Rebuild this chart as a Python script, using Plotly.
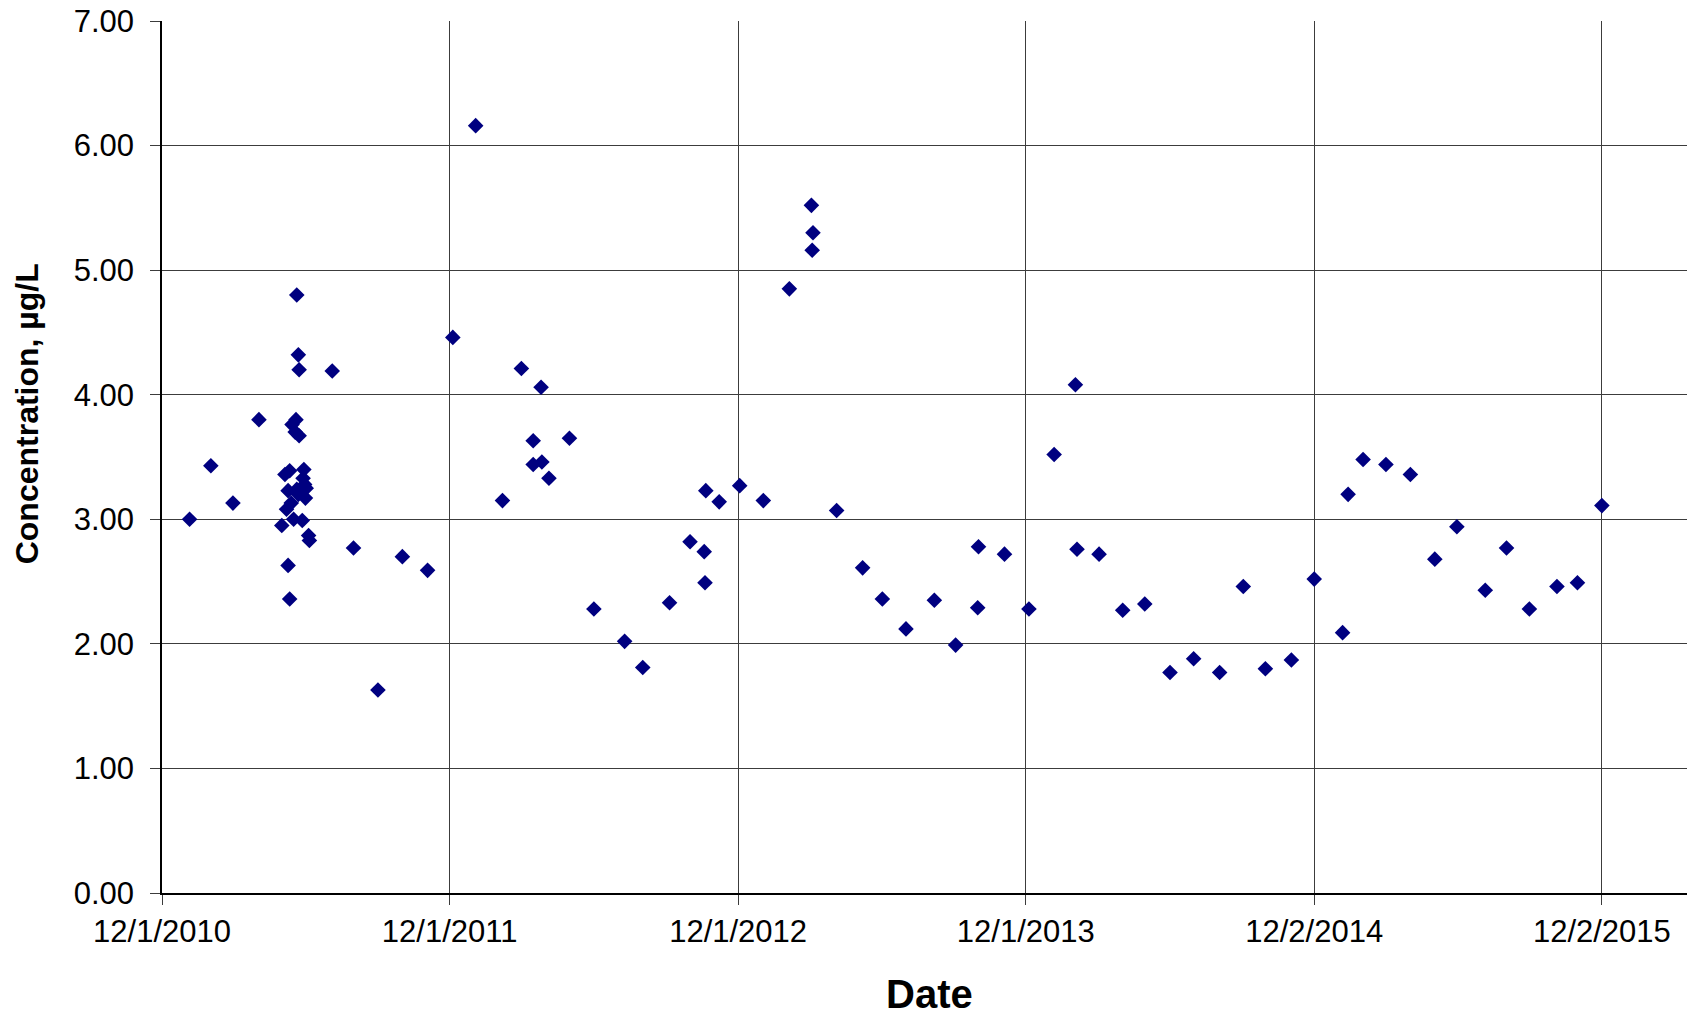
import plotly.graph_objects as go

# Sample dates and concentrations (µg/L)
dates = [
    "2011-01-05", "2011-02-01", "2011-03-01", "2011-04-03",
    "2011-05-21", "2011-05-23", "2011-05-24", "2011-05-20", "2011-05-15", "2011-05-19", "2011-05-24",
    "2011-05-12", "2011-05-30", "2011-05-06", "2011-05-29", "2011-05-31", "2011-06-02", "2011-05-10",
    "2011-05-21", "2011-06-01", "2011-05-14", "2011-05-08", "2011-05-23", "2011-05-02", "2011-05-17",
    "2011-05-28", "2011-06-05", "2011-06-06", "2011-05-10", "2011-05-12",
    "2011-07-05", "2011-08-01", "2011-09-01", "2011-10-02", "2011-11-03", "2011-12-05",
    "2012-01-03", "2012-02-06", "2012-03-01", "2012-03-16", "2012-03-16", "2012-03-26", "2012-03-27",
    "2012-04-05", "2012-05-01", "2012-06-01", "2012-07-10", "2012-08-02", "2012-09-05", "2012-10-01",
    "2012-10-19", "2012-10-20", "2012-10-21", "2012-11-07", "2012-12-03",
    "2013-01-02", "2013-02-04", "2013-03-04", "2013-03-06", "2013-03-05", "2013-04-05", "2013-05-08",
    "2013-06-02", "2013-07-02", "2013-08-07", "2013-09-03", "2013-10-02", "2013-10-01", "2013-11-04",
    "2013-12-05",
    "2014-01-06", "2014-02-02", "2014-02-04", "2014-03-04", "2014-04-03", "2014-05-01", "2014-06-02",
    "2014-07-02", "2014-08-04", "2014-09-03", "2014-10-01", "2014-11-03", "2014-12-02",
    "2015-01-07", "2015-01-14", "2015-02-02", "2015-03-03", "2015-04-03", "2015-05-04", "2015-06-01",
    "2015-07-07", "2015-08-03", "2015-09-01", "2015-10-06", "2015-11-01", "2015-12-02",
]
concentration = [
    3.00, 3.43, 3.13, 3.80,
    4.80, 4.32, 4.20, 3.80, 3.76, 3.70, 3.67,
    3.39, 3.40, 3.36, 3.33, 3.28, 3.25, 3.23,
    3.24, 3.17, 3.13, 3.08, 3.20, 2.95, 3.00,
    2.99, 2.87, 2.83, 2.63, 2.36,
    4.19, 2.77, 1.63, 2.70, 2.59, 4.46,
    6.16, 3.15, 4.21, 3.63, 3.44, 4.06, 3.46,
    3.33, 3.65, 2.28, 2.02, 1.81, 2.33, 2.82,
    2.74, 2.49, 3.23, 3.14, 3.27,
    3.15, 4.85, 5.52, 5.30, 5.16, 3.07, 2.61,
    2.36, 2.12, 2.35, 1.99, 2.78, 2.29, 2.72,
    2.28,
    3.52, 4.08, 2.76, 2.72, 2.27, 2.32, 1.77,
    1.88, 1.77, 2.46, 1.80, 1.87, 2.52,
    2.09, 3.20, 3.48, 3.44, 3.36, 2.68, 2.94,
    2.43, 2.77, 2.28, 2.46, 2.49, 3.11,
]

tick_dates = ["2010-12-01", "2011-12-01", "2012-12-01", "2013-12-01", "2014-12-02", "2015-12-02"]
tick_labels = ["12/1/2010", "12/1/2011", "12/1/2012", "12/1/2013", "12/2/2014", "12/2/2015"]
y_ticks = [0, 1, 2, 3, 4, 5, 6, 7]

FONT = "Liberation Sans, Arial, sans-serif"

fig = go.Figure()
fig.add_trace(go.Scatter(
    x=dates, y=concentration, mode="markers",
    marker=dict(symbol="diamond", size=12, color="#000080", line=dict(width=0)),
    showlegend=False,
))

fig.update_layout(
    width=1679, height=1004,
    margin=dict(l=154, r=0, t=13, b=119, autoexpand=False),
    paper_bgcolor="white", plot_bgcolor="white",
    font=dict(family=FONT, color="black", size=31),
    xaxis=dict(
        type="date",
        range=["2010-12-01", "2016-03-19"],
        tickvals=tick_dates, ticktext=tick_labels,
        showgrid=True, gridcolor="#3c3c3c", gridwidth=1,
        showline=True, linecolor="black", linewidth=1.5,
        ticks="outside", ticklen=10, tickcolor="#3c3c3c", tickwidth=1,
        tickfont=dict(size=31, family=FONT, color="black"),
        ticklabeloverflow="allow",
        automargin=False,
        zeroline=False,
    ),
    yaxis=dict(
        range=[0, 7],
        tickvals=y_ticks, tickformat=".2f",
        showgrid=True, gridcolor="#3c3c3c", gridwidth=1,
        showline=True, linecolor="black", linewidth=1.5,
        ticks="outside", ticklen=10, tickcolor="#3c3c3c", tickwidth=1,
        tickfont=dict(size=31, family=FONT, color="black"),
        ticklabelstandoff=10,
        ticklabeloverflow="allow",
        automargin=False,
        zeroline=False,
    ),
    annotations=[
        dict(text="<b>Concentration, µg/L</b>", xref="paper", yref="paper",
             x=-0.0885, y=0.549, xanchor="center", yanchor="middle",
             textangle=-90, showarrow=False,
             font=dict(size=32, family=FONT, color="black")),
        dict(text="<b>Date</b>", xref="paper", yref="paper",
             x=0.5036, y=-0.116, xanchor="center", yanchor="middle",
             showarrow=False, font=dict(size=40, family=FONT, color="black")),
    ],
)

fig.write_html("out.html")
